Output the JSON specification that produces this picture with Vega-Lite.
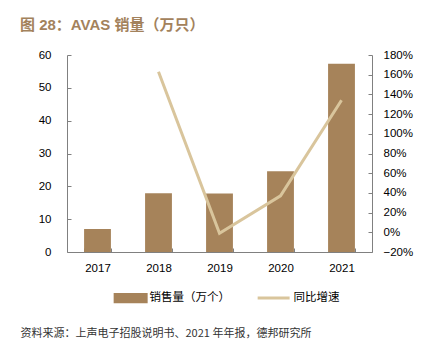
{
  "$schema": "https://vega.github.io/schema/vega-lite/v6.json",
  "width": 305,
  "height": 197,
  "autosize": "none",
  "padding": {"left": 67, "top": 55, "right": 59, "bottom": 102},
  "background": "white",
  "title": {
    "text": "图 28：AVAS 销量（万只）",
    "anchor": "start",
    "frame": "group",
    "dx": -47,
    "offset": 16,
    "fontSize": 15,
    "fontWeight": "bold",
    "color": "#A3825C",
    "font": "Liberation Sans, Noto Sans CJK SC"
  },
  "config": {
    "view": {"stroke": null},
    "axis": {
      "domainColor": "#808080",
      "tickColor": "#808080",
      "labelFont": "Liberation Sans",
      "labelFontSize": 11.5,
      "labelColor": "#000000",
      "grid": false
    }
  },
  "data": {
    "values": [
      {"year": "2017", "sales": 7.0, "growth": null},
      {"year": "2018", "sales": 17.9, "growth": 1.63},
      {"year": "2019", "sales": 17.8, "growth": -0.01},
      {"year": "2020", "sales": 24.6, "growth": 0.37},
      {"year": "2021", "sales": 57.3, "growth": 1.34}
    ]
  },
  "encoding": {
    "x": {
      "field": "year",
      "type": "ordinal",
      "scale": {"paddingInner": 0.56, "paddingOuter": 0.28},
      "axis": {
        "labelAngle": 0,
        "bandPosition": 0,
        "tickBand": "extent",
        "tickSize": -4,
        "labelPadding": 14,
        "title": "资料来源：上声电子招股说明书、2021 年年报，德邦研究所",
        "titleX": -47,
        "titleY": 81,
        "titleAlign": "left",
        "titleAnchor": "start",
        "titleBaseline": "middle",
        "titleFont": "Noto Sans CJK SC",
        "titleFontSize": 11,
        "titleFontWeight": "normal",
        "titleColor": "#333333"
      }
    }
  },
  "layer": [
    {
      "mark": {"type": "bar", "color": "#A6835A"},
      "encoding": {
        "y": {
          "field": "sales",
          "type": "quantitative",
          "scale": {"domain": [0, 60], "nice": false},
          "axis": {"values": [0, 10, 20, 30, 40, 50, 60], "title": null, "tickSize": -4, "labelPadding": 20}
        },
        "color": {
          "datum": "销售量（万个）",
          "type": "nominal",
          "scale": {"domain": ["销售量（万个）", "同比增速"], "range": ["#A6835A", "#D9C59C"]},
          "legend": {
            "orient": "none",
            "legendX": 46,
            "legendY": 237,
            "direction": "horizontal",
            "title": null,
            "padding": 0,
            "symbolSize": 1156,
            "labelFont": "Noto Sans CJK SC",
            "labelFontSize": 11.5,
            "labelColor": "#000000",
            "labelOffset": 25,
            "columnPadding": 21,
            "encode": {
              "symbols": {
                "update": {
                  "shape": {"signal": "datum.value === '同比增速' ? 'M-0.3,0H1.58' : 'M-0.3,-0.3H1.7V0.3H-0.3Z'"},
                  "strokeWidth": {"signal": "datum.value === '同比增速' ? 3 : 0"},
                  "fill": [{"test": "datum.value === '同比增速'", "value": "transparent"}, {"scale": "color", "field": "value"}],
                  "stroke": {"scale": "color", "field": "value"},
                  "opacity": {"value": 1}
                }
              }
            }
          }
        }
      }
    },
    {
      "mark": {"type": "line", "strokeWidth": 3},
      "encoding": {
        "y": {
          "field": "growth",
          "type": "quantitative",
          "scale": {"domain": [-0.2, 1.8], "nice": false},
          "axis": {
            "orient": "right",
            "values": [-0.2, 0, 0.2, 0.4, 0.6, 0.8, 1.0, 1.2, 1.4, 1.6, 1.8],
            "format": ".0%",
            "title": null,
            "tickSize": -4,
            "labelPadding": 15
          }
        },
        "color": {"datum": "同比增速", "type": "nominal"}
      }
    }
  ],
  "resolve": {"scale": {"y": "independent"}}
}
